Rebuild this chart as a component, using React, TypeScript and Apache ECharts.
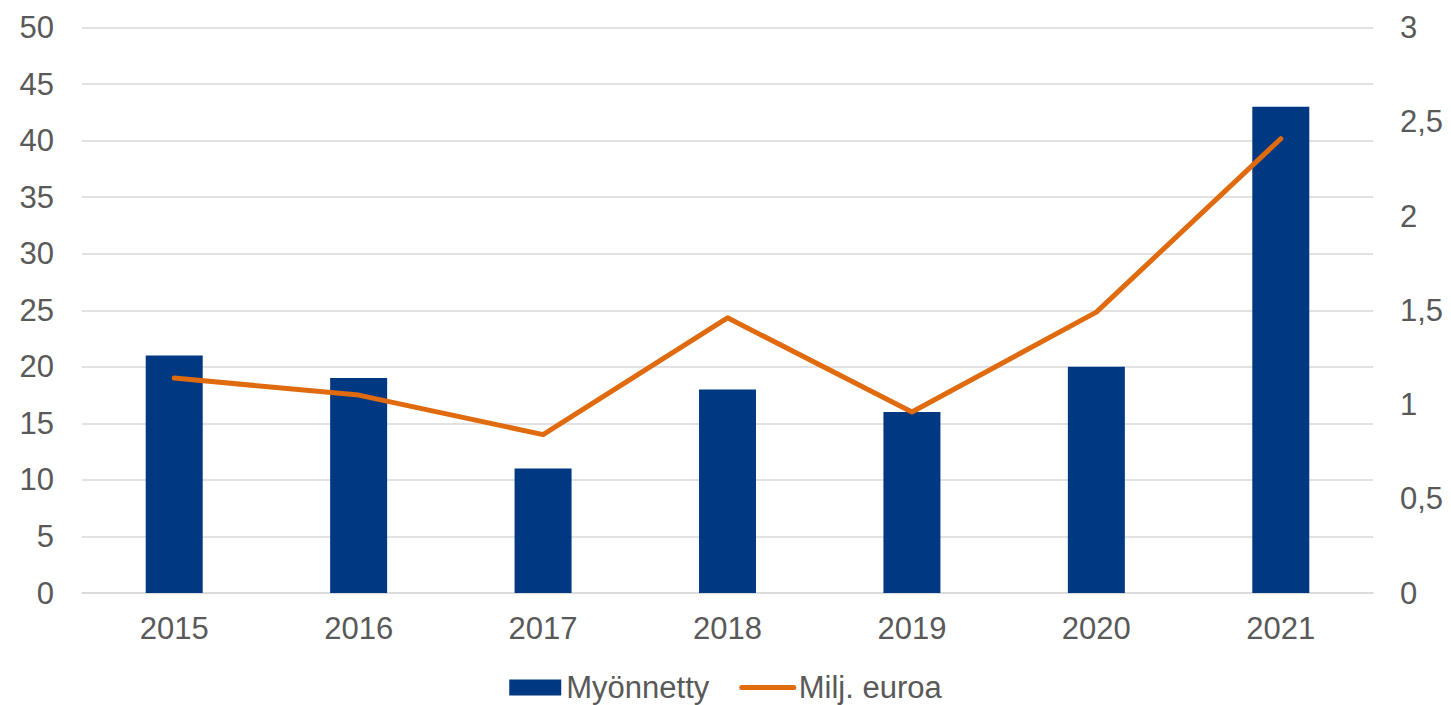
import React, { useEffect, useRef } from "react";
import * as echarts from "echarts";

const years = ["2015", "2016", "2017", "2018", "2019", "2020", "2021"];
const granted = [21, 19, 11, 18, 16, 20, 43];
const millionEuros = [1.14, 1.05, 0.84, 1.46, 0.96, 1.49, 2.41];
const leftTicks = { min: 0, max: 50, interval: 5 };
const rightTicks = { min: 0, max: 3, interval: 0.5 };

const FONT = "'Liberation Sans', Arial, sans-serif";
const GREY = "#595959";
const ORANGE = "#E06A0E";

export default function App() {
  const ref = useRef<HTMLDivElement>(null);
  useEffect(() => {
    document.body.style.margin = "0";
    const chart = echarts.init(ref.current!, null, { renderer: "svg" });
    chart.setOption({
      animation: false,
      textStyle: { fontFamily: FONT },
      grid: { left: 82, right: 78, top: 27.5, bottom: 112, containLabel: false },
      legend: {
        bottom: -3,
        left: "center",
        itemWidth: 52,
        itemHeight: 16,
        itemGap: 30,
        textStyle: { fontSize: 31, color: GREY, fontFamily: FONT },
        data: [
          { name: "Myönnetty", icon: "rect" },
          {
            name: "Milj. euroa",
            itemStyle: { opacity: 0 },
            lineStyle: { width: 5, color: ORANGE },
          },
        ],
      },
      xAxis: {
        type: "category",
        data: years,
        axisLine: { show: true, lineStyle: { color: "#D9D9D9", width: 1.5 } },
        axisTick: { show: false },
        axisLabel: { fontSize: 31, color: GREY, margin: 20, fontFamily: FONT },
      },
      yAxis: [
        {
          type: "value",
          ...leftTicks,
          axisLine: { show: false },
          axisTick: { show: false },
          splitLine: { lineStyle: { color: "#D9D9D9", width: 1.5 } },
          axisLabel: { fontSize: 31, color: GREY, margin: 28, fontFamily: FONT },
        },
        {
          type: "value",
          ...rightTicks,
          position: "right",
          axisLine: { show: false },
          axisTick: { show: false },
          splitLine: { show: false },
          axisLabel: {
            fontSize: 31,
            color: GREY,
            margin: 27,
            fontFamily: FONT,
            formatter: (v: number) => String(v).replace(".", ","),
          },
        },
      ],
      series: [
        {
          name: "Myönnetty",
          type: "bar",
          data: granted,
          barWidth: 57,
          itemStyle: { color: "#013882" },
        },
        {
          name: "Milj. euroa",
          type: "line",
          yAxisIndex: 1,
          data: millionEuros,
          symbol: "none",
          lineStyle: { color: ORANGE, width: 5, cap: "round", join: "round" },
          itemStyle: { color: ORANGE },
        },
      ],
    });
    return () => chart.dispose();
  }, []);
  return <div ref={ref} style={{ width: 1451, height: 705 }} />;
}
